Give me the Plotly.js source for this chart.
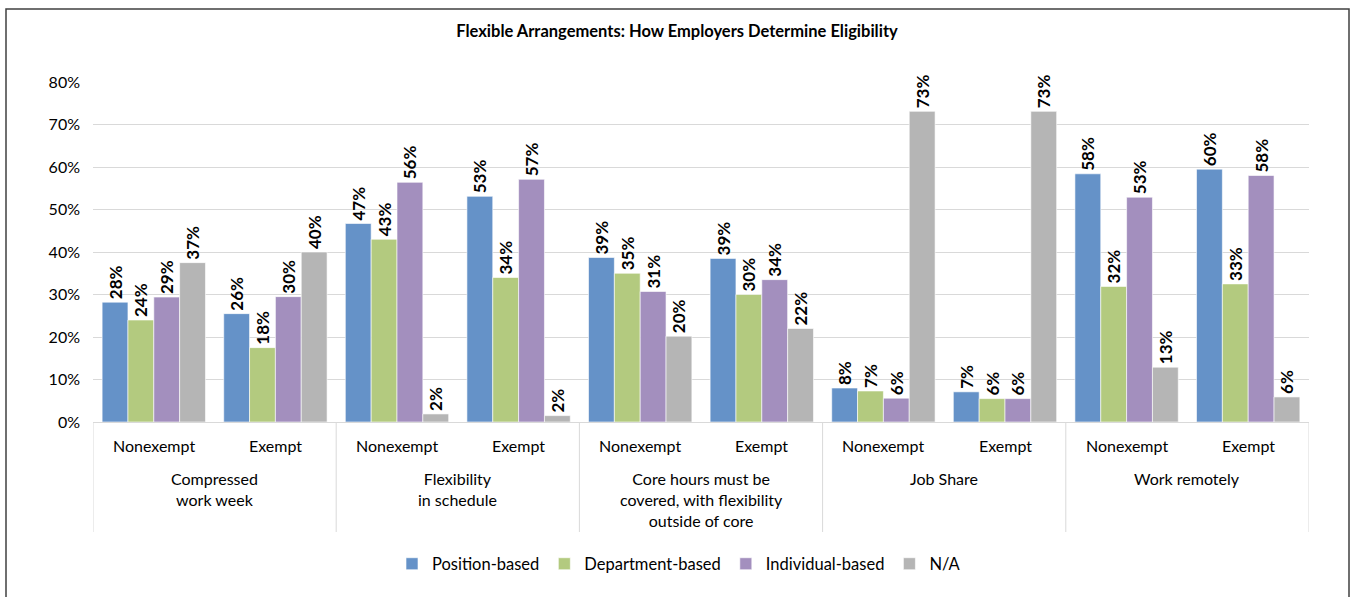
<!DOCTYPE html>
<html>
<head>
<meta charset="utf-8">
<script src="https://cdn.plot.ly/plotly-3.0.1.min.js"></script>
<style>html,body{margin:0;padding:0;background:#fff;}#chart{width:1354px;height:597px;}</style>
</head>
<body>
<div id="chart"></div>
<script>
const groupNames = ["Compressed<br>work week", "Flexibility<br>in schedule",
  "Core hours must be<br>covered, with flexibility<br>outside of core", "Job Share", "Work remotely"];
const groups = ["Compressed<br>work week", "Compressed<br>work week",
  "Flexibility<br>in schedule", "Flexibility<br>in schedule",
  "Core hours must be<br>covered, with flexibility<br>outside of core", "Core hours must be<br>covered, with flexibility<br>outside of core",
  "Job Share", "Job Share",
  "Work remotely", "Work remotely"];
const subcats = ["Nonexempt", "Exempt", "Nonexempt", "Exempt", "Nonexempt", "Exempt", "Nonexempt", "Exempt", "Nonexempt", "Exempt"];

const seriesNames = ["Position-based", "Department-based", "Individual-based", "N/A"];
const positionVals = [28.2, 25.5, 46.7, 53.1, 38.7, 38.5, 8.0, 7.1, 58.4, 59.5];
const departmentVals = [24.0, 17.5, 43.0, 34.0, 35.0, 30.0, 7.3, 5.5, 31.9, 32.5];
const individualVals = [29.4, 29.5, 56.4, 57.1, 30.7, 33.5, 5.6, 5.5, 52.9, 58.0];
const naVals = [37.5, 40.0, 1.9, 1.5, 20.2, 22.0, 73.1, 73.1, 12.9, 5.9];

const positionLabels = ["28%", "26%", "47%", "53%", "39%", "39%", "8%", "7%", "58%", "60%"];
const departmentLabels = ["24%", "18%", "43%", "34%", "35%", "30%", "7%", "6%", "32%", "33%"];
const individualLabels = ["29%", "30%", "56%", "57%", "31%", "34%", "6%", "6%", "53%", "58%"];
const naLabels = ["37%", "40%", "2%", "2%", "20%", "22%", "73%", "73%", "13%", "6%"];

const yTickVals = [0, 10, 20, 30, 40, 50, 60, 70, 80];
const yTickText = ["0%", "10%", "20%", "30%", "40%", "50%", "60%", "70%", "80%"];

const colors = ["#6592C8", "#B3CA7F", "#A38FBE", "#B5B5B5"];
const allVals = [positionVals, departmentVals, individualVals, naVals];
const allLabels = [positionLabels, departmentLabels, individualLabels, naLabels];

const FONT = "Lato, 'Open Sans', sans-serif";
const PLOT_H = 340;  // plot area height in px (for converting label offsets)

const traces = seriesNames.map((name, i) => ({
  type: "bar",
  name: name,
  x: [groups, subcats],
  y: allVals[i],
  text: allLabels[i],
  textposition: "outside",
  textangle: -90,
  constraintext: "none",
  textfont: {family: FONT, size: 17, color: "#000", weight: "bold"},
  cliponaxis: false,
  marker: {color: colors[i], line: {color: "rgba(255,255,255,0.6)", width: 1}},
  hoverinfo: "skip"
}));

// Category labels drawn as annotations on an overlaid index axis
const annotations = [];
subcats.forEach((s, i) => {
  annotations.push({xref: "x2", yref: "paper", x: i, y: -23 / PLOT_H, text: s,
    showarrow: false, xanchor: "center", yanchor: "middle",
    font: {family: FONT, size: 16, color: "#000"}});
});
groupNames.forEach((g, k) => {
  annotations.push({xref: "x2", yref: "paper", x: 2 * k + 0.5, y: -45 / PLOT_H, text: g,
    showarrow: false, xanchor: "center", yanchor: "top", align: "center",
    font: {family: FONT, size: 16, color: "#000"}});
});

const shapes = [];
for (let k = 0; k <= groupNames.length; k++) {
  shapes.push({type: "line", xref: "x2", yref: "paper", x0: 2 * k - 0.5, x1: 2 * k - 0.5,
    y0: 0, y1: -110 / PLOT_H, line: {color: "#D9D9D9", width: 1}});
}
shapes.push({type: "rect", xref: "paper", yref: "paper",
  x0: (6 - 93) / 1216, x1: (1349 - 93) / 1216,
  y0: (422 - 610) / PLOT_H, y1: (422 - 9) / PLOT_H,
  line: {color: "#404040", width: 1.5}, fillcolor: "rgba(0,0,0,0)", layer: "below"});

const layout = {
  width: 1354,
  height: 597,
  margin: {l: 93, r: 45, t: 82, b: 175},
  paper_bgcolor: "#fff",
  plot_bgcolor: "#fff",
  font: {family: FONT, size: 15, color: "#000"},
  title: {
    text: "<b>Flexible Arrangements: How Employers Determine Eligibility</b>",
    font: {family: FONT, size: 16.5, color: "#000"},
    x: 0.5, xanchor: "center",
    y: 1 - 31 / 597, yanchor: "middle"
  },
  barmode: "group",
  bargap: 0.15,
  bargroupgap: 0,
  xaxis: {
    type: "multicategory",
    showgrid: false,
    showline: true,
    linecolor: "#D9D9D9",
    linewidth: 1,
    ticks: "",
    showticklabels: false,
    showdividers: false
  },
  xaxis2: {
    overlaying: "x",
    range: [-0.5, subcats.length - 0.5],
    visible: false,
    fixedrange: true
  },
  yaxis: {
    range: [0, 80],
    tickvals: yTickVals,
    ticktext: yTickText,
    showgrid: true,
    gridcolor: "#D9D9D9",
    gridwidth: 1,
    zeroline: false,
    showline: false,
    ticks: "",
    ticklabelstandoff: 12,
    tickfont: {family: FONT, size: 16, color: "#000"}
  },
  legend: {
    orientation: "h",
    x: 0.5 - 22 / 1216, xanchor: "center",
    y: (422 - 564) / PLOT_H, yanchor: "middle",
    font: {family: FONT, size: 16.5, color: "#000"},
    itemwidth: 30,
    traceorder: "normal"
  },
  annotations: annotations,
  shapes: shapes
};

// invisible trace to anchor the overlaid index axis
traces.push({type: "scatter", x: [0], y: [0], xaxis: "x2", mode: "markers",
  marker: {opacity: 0}, showlegend: false, hoverinfo: "skip"});

Plotly.newPlot("chart", traces, layout, {displayModeBar: false, staticPlot: true});
</script>
</body>
</html>
